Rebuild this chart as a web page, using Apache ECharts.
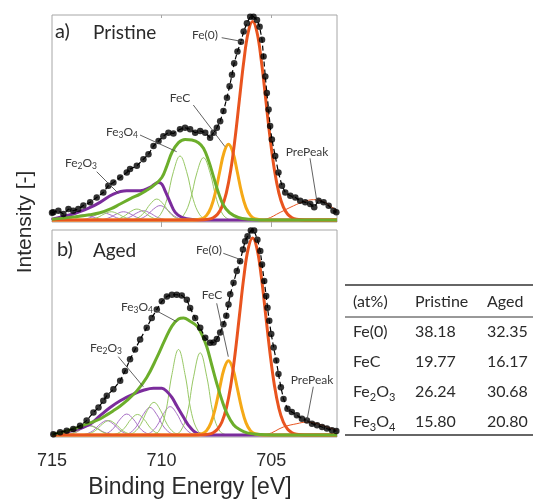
<!DOCTYPE html>
<html><head><meta charset="utf-8">
<script src="https://cdn.jsdelivr.net/npm/echarts@6/dist/echarts.min.js"></script>
<style>html,body{margin:0;padding:0;background:#fff}#c{width:534px;height:501px}</style>
</head><body><div id="c"></div>
<script>
// ---------- DATA (binding energy eV, intensity a.u.) ----------
const xTickValues = [715, 710, 705];

const dataA = [[715.0,3.5],[714.94,3.7],[714.71,4.5],[714.48,2.9],[714.25,5.3],[714.03,4.5],[713.80,5.3],[713.57,7.0],[713.26,8.6],[712.96,11.0],[712.66,13.4],[712.43,16.7],[712.20,18.3],[711.89,20.7],[711.59,23.1],[711.44,24.8],[711.13,26.4],[710.83,29.6],[710.60,32.0],[710.37,36.1],[710.14,38.5],[709.92,40.9],[709.69,42.6],[709.46,42.2],[709.16,44.2],[708.93,45.0],[708.70,44.2],[708.47,42.6],[708.24,43.4],[708.01,42.6],[707.79,40.1],[707.63,42.6],[707.48,45.0],[707.33,48.2],[707.18,53.1],[707.02,59.6],[706.90,65.2],[706.79,70.9],[706.69,76.5],[706.54,82.2],[706.38,87.0],[706.26,91.9],[706.11,96.0],[705.96,99.2],[705.81,99.2],[705.65,97.6],[705.53,94.3],[705.42,87.9],[705.35,79.8],[705.27,70.0],[705.20,62.0],[705.12,53.9],[705.05,45.8],[704.97,39.3],[704.82,31.2],[704.67,23.1],[704.51,16.7],[704.36,13.4],[704.13,11.8],[703.90,11.0],[703.68,9.4],[703.45,8.6],[703.22,7.8],[703.04,6.2],[702.84,9.4],[702.61,8.6],[702.38,6.9],[702.16,4.5],[702.03,3.7]];

const fe0A = [[715,0],[708.25,0],[707.85,0.4],[707.65,1.1],[707.45,2.8],[707.25,6.4],[707.05,13.1],[706.85,24.1],[706.65,39.8],[706.45,58.8],[706.25,77.5],[706.05,91.6],[705.85,96.8],[705.65,91.6],[705.45,77.5],[705.25,58.8],[705.05,39.8],[704.85,24.1],[704.65,13.1],[704.45,6.4],[704.25,2.8],[704.05,1.1],[703.85,0.4],[703.45,0],[702,0]];
const fecA = [[715,0],[708.55,0],[708.15,0.6],[707.95,2.2],[707.75,6.0],[707.55,13.3],[707.35,23.5],[707.15,33.0],[706.95,36.9],[706.75,33.0],[706.55,23.5],[706.35,13.3],[706.15,6.0],[705.95,2.2],[705.75,0.6],[705.35,0],[702,0]];
const fe3o4A = [[715,0.3],[714,1.5],[713.3,2.5],[712.81,3.5],[712.3,5.5],[711.89,7.8],[711.4,10.5],[710.98,12.6],[710.68,14.5],[710.37,16.7],[709.99,20.7],[709.76,26.4],[709.53,32.9],[709.23,37.7],[708.93,39.3],[708.62,39.0],[708.32,37.7],[708.09,35.0],[707.86,29.0],[707.63,21.0],[707.4,13.0],[707.17,7.0],[706.9,3.5],[706.5,1.2],[706.0,0.3],[705.5,0],[702,0]];
const fe2o3A = [[715,0],[714.94,0.5],[714.03,2.9],[713.26,6.1],[712.81,8.6],[712.20,12.6],[711.59,14.2],[710.98,14.2],[710.53,15.9],[710.15,18.3],[709.99,17.5],[709.84,14.2],[709.61,8.6],[709.38,3.7],[709.08,1.3],[708.6,0.2],[708,0],[702,0]];
const preA = [[705.6,0],[705.2,0.5],[704.59,3.7],[703.98,6.9],[703.52,8.9],[703.07,9.9],[702.61,8.9],[702.23,6.2],[702.0,4.5]];
const thinGreenA = [
  [[710.36,0],[710.06,2.5],[709.76,10.1],[709.46,23.6],[709.16,31.2],[708.86,23.6],[708.56,10.1],[708.26,2.5],[707.96,0]],
  [[709.29,0],[708.99,2.4],[708.69,9.9],[708.39,23.0],[708.09,30.4],[707.79,23.0],[707.49,9.9],[707.19,2.4],[706.89,0]],
  [[711.42,0],[711.12,0.8],[710.82,3.3],[710.52,7.7],[710.22,10.2],[709.92,7.7],[709.62,3.3],[709.32,0.8],[709.02,0]],
  [[712.33,0],[712.03,0.4],[711.73,1.7],[711.43,4.0],[711.13,5.3],[710.83,4.0],[710.53,1.7],[710.23,0.4],[709.93,0]],
  [[713.5,0],[713.2,0.3],[712.9,1.3],[712.6,3.0],[712.3,4.0],[712.0,3.0],[711.7,1.3],[711.4,0.3],[711.1,0]]
];
const thinPurpleA = [
  [[711.27,0],[710.97,0.6],[710.67,2.3],[710.37,5.3],[710.07,7.0],[709.77,5.3],[709.47,2.3],[709.17,0.6],[708.87,0]],
  [[712.03,0],[711.73,0.4],[711.43,1.5],[711.13,3.4],[710.83,4.5],[710.53,3.4],[710.23,1.5],[709.93,0.4],[709.63,0]],
  [[712.94,0],[712.64,0.3],[712.34,1.3],[712.04,3.0],[711.74,4.0],[711.44,3.0],[711.14,1.3],[710.84,0.3],[710.54,0]],
  [[713.86,0],[713.56,0.3],[713.26,1.1],[712.96,2.6],[712.66,3.5],[712.36,2.6],[712.06,1.1],[711.76,0.3],[711.46,0]],
  [[714.77,0],[714.47,0.2],[714.17,0.8],[713.87,1.9],[713.57,2.5],[713.27,1.9],[712.97,0.8],[712.67,0.2],[712.37,0]]
];

const dataB = [[714.94,0.3],[714.63,1.3],[714.33,2.1],[714.03,2.9],[713.72,4.5],[713.42,7.0],[713.11,11.0],[712.88,13.4],[712.66,16.7],[712.50,19.1],[712.20,22.3],[711.89,26.4],[711.67,31.2],[711.44,36.9],[711.21,41.7],[710.98,46.6],[710.68,52.3],[710.45,57.1],[710.22,61.2],[709.99,65.2],[709.76,67.6],[709.53,68.4],[709.31,68.4],[709.08,68.1],[708.85,66.0],[708.70,62.0],[708.47,57.1],[708.24,52.3],[708.01,47.4],[707.79,45.0],[707.63,45.1],[707.48,46.8],[707.33,50.0],[707.18,54.0],[707.05,58.1],[706.95,63.7],[706.87,68.6],[706.72,74.3],[706.57,80.0],[706.42,84.8],[706.29,90.5],[706.19,94.5],[706.08,96.9],[705.93,99.7],[705.78,99.7],[705.63,95.3],[705.50,89.7],[705.42,83.2],[705.32,75.1],[705.23,67.8],[705.17,62.1],[705.09,55.7],[705.00,49.2],[704.89,42.7],[704.77,36.3],[704.67,29.8],[704.56,23.3],[704.44,17.6],[704.26,12.8],[704.06,11.2],[703.83,9.6],[703.60,7.9],[703.37,7.1],[703.14,5.5],[702.91,4.7],[702.68,3.9],[702.46,3.1],[702.23,2.3],[702.03,1.9]];

const fe0B = [[715,0],[708.25,0],[707.85,0.4],[707.65,1.1],[707.45,2.8],[707.25,6.3],[707.05,13.0],[706.85,23.9],[706.65,39.5],[706.45,58.3],[706.25,77.0],[706.05,90.9],[705.85,96.1],[705.65,90.9],[705.45,77.0],[705.25,58.3],[705.05,39.5],[704.85,23.9],[704.65,13.0],[704.45,6.3],[704.25,2.8],[704.05,1.1],[703.85,0.4],[703.45,0],[702,0]];
const fecB = [[715,0],[708.55,0],[708.15,0.6],[707.95,2.1],[707.75,5.9],[707.55,13.1],[707.35,23.0],[707.15,32.3],[706.95,36.2],[706.75,32.3],[706.55,23.0],[706.35,13.1],[706.15,5.9],[705.95,2.1],[705.75,0.6],[705.35,0],[702,0]];
const fe3o4B = [[715,0.3],[714.5,1.5],[714.03,2.9],[713.5,5.0],[713.1,6.5],[712.81,7.8],[712.5,9.8],[712.2,11.8],[711.9,14.0],[711.59,16.7],[711.13,21.5],[710.68,28.0],[710.22,37.7],[709.84,46.6],[709.53,53.1],[709.23,56.6],[709.0,57.1],[708.7,55.5],[708.39,53.1],[708.16,49.0],[707.94,43.0],[707.71,34.0],[707.48,25.0],[707.25,17.0],[707.02,10.5],[706.72,5.0],[706.42,2.5],[706.1,1.0],[705.66,0.3],[704.9,0],[702,0]];
const fe2o3B = [[715,0],[714.94,0.5],[714.03,2.1],[713.26,5.3],[712.81,9.4],[712.35,13.4],[711.89,16.7],[711.29,19.9],[710.83,21.8],[710.37,22.8],[709.99,22.8],[709.76,21.2],[709.53,18.3],[709.31,14.2],[709.0,8.6],[708.7,3.7],[708.32,0.5],[707.8,0],[702,0]];
const preB = [[705.6,0],[705.2,0.3],[704.44,3.9],[703.83,5.5],[703.37,6.3],[702.91,5.5],[702.46,3.9],[702.0,2.3]];
const thinGreenB = [
  [[710.43,0],[710.13,1.8],[709.83,10.4],[709.53,29.5],[709.23,41.7],[708.93,29.5],[708.63,10.4],[708.33,1.8],[708.03,0]],
  [[709.44,0],[709.14,1.8],[708.84,10.0],[708.54,28.4],[708.24,40.1],[707.94,28.4],[707.64,10.0],[707.34,1.8],[707.04,0]],
  [[711.55,0],[711.25,1.3],[710.95,5.2],[710.65,12.0],[710.35,15.9],[710.05,12.0],[709.75,5.2],[709.45,1.3],[709.15,0]],
  [[712.3,0],[712.0,0.8],[711.7,3.3],[711.4,7.6],[711.1,10.0],[710.8,7.6],[710.5,3.3],[710.2,0.8],[709.9,0]],
  [[713.6,0],[713.3,0.6],[713.0,2.3],[712.7,5.3],[712.4,7.0],[712.1,5.3],[711.8,2.3],[711.5,0.6],[711.2,0]],
  [[714.5,0],[714.2,0.4],[713.9,1.5],[713.6,3.4],[713.3,4.5],[713.0,3.4],[712.7,1.5],[712.4,0.4],[712.1,0]]
];
const thinPurpleB = [
  [[710.81,0],[710.51,1.1],[710.21,4.5],[709.91,10.4],[709.61,13.8],[709.31,10.4],[709.01,4.5],[708.71,1.1],[708.41,0]],
  [[711.73,0],[711.43,1.1],[711.13,4.4],[710.83,10.1],[710.53,13.4],[710.23,10.1],[709.93,4.4],[709.63,1.1],[709.33,0]],
  [[712.79,0],[712.49,0.8],[712.19,3.3],[711.89,7.7],[711.59,10.2],[711.29,7.7],[710.99,3.3],[710.69,0.8],[710.39,0]],
  [[713.7,0],[713.4,0.6],[713.1,2.3],[712.8,5.3],[712.5,7.0],[712.2,5.3],[711.9,2.3],[711.6,0.6],[711.3,0]],
  [[714.46,0],[714.16,0.4],[713.86,1.5],[713.56,3.4],[713.26,4.5],[712.96,3.4],[712.66,1.5],[712.36,0.4],[712.06,0]]
];

const tableHeader = ['(at%)', 'Pristine', 'Aged'];
const tableNames = ['Fe(0)', 'FeC', '{n|Fe}{s|2}{n|O}{s|3}', '{n|Fe}{s|3}{n|O}{s|4}'];
const pristineVals = ['38.18', '19.77', '26.24', '15.80'];
const agedVals = ['32.35', '16.17', '30.68', '20.80'];

// ---------- STYLE ----------
const C = {
  fe0: '#E9541F', fec: '#F5A917', green: '#6CAE2B', purple: '#7B2C9C',
  thinGreen: '#98C865', thinPurple: '#A870C6', text: '#2a2a2a', ann: '#3a3a3a', lead: '#505050'
};

function line(p, data, color, width, z, extra) {
  return Object.assign({
    type: 'line', xAxisIndex: p, yAxisIndex: p, data: data, showSymbol: false,
    smooth: 0.4, lineStyle: { color: color, width: width }, z: z, silent: true, animation: false
  }, extra || {});
}

const series = [];
[[dataA, fe0A, fecA, fe3o4A, fe2o3A, preA, thinGreenA, thinPurpleA],
 [dataB, fe0B, fecB, fe3o4B, fe2o3B, preB, thinGreenB, thinPurpleB]].forEach((P, p) => {
  const [data, fe0, fec, fe3o4, fe2o3, pre, tg, tp] = P;
  tp.forEach(d => series.push(line(p, d, C.thinPurple, 1, 2)));
  tg.forEach(d => series.push(line(p, d, C.thinGreen, 1, 2)));
  series.push(line(p, pre, C.fe0, 1, 3));
  series.push(line(p, fe2o3, C.purple, 3, 4));
  series.push(line(p, fec, C.fec, 3, 5));
  series.push(line(p, fe0, C.fe0, 3, 6));
  series.push(line(p, fe3o4, C.green, 3, 7));
  series.push(line(p, data, '#000', 1, 8, { smooth: false, lineStyle: { color: '#000', width: 1.2, type: [5, 3] } }));
  series.push({ type: 'scatter', xAxisIndex: p, yAxisIndex: p, data: data, symbolSize: 6.5,
    itemStyle: { color: '#000' }, z: 9, silent: true, animation: false });
});

// ---------- ANNOTATIONS (pixel layout) ----------
const annFont = 'Lato';
const annRich = {
  n: { fontSize: 12, fontFamily: annFont, fill: C.ann, lineHeight: 16 },
  s: { fontSize: 8.5, fontFamily: annFont, fill: C.ann, lineHeight: 8.5, verticalAlign: 'bottom' }
};
const annotations = [
  { t: '{n|Fe(0)}', x: 205, y: 35, l: [221.7, 37.7, 243.3, 41.7] },
  { t: '{n|FeC}', x: 180, y: 98, l: [193.3, 105, 225, 146.7] },
  { t: '{n|Fe}{s|3}{n|O}{s|4}', x: 122, y: 132, l: [140, 135, 176.7, 151.7] },
  { t: '{n|Fe}{s|2}{n|O}{s|3}', x: 81, y: 163, l: [96.7, 171.7, 118.3, 193.3] },
  { t: '{n|PrePeak}', x: 307, y: 152, l: [310, 158.3, 316.7, 200] },
  { t: '{n|Fe(0)}', x: 209, y: 250, l: [223.3, 253.3, 241.7, 260] },
  { t: '{n|FeC}', x: 212, y: 295, l: [216.7, 303.3, 228.3, 356.7] },
  { t: '{n|Fe}{s|3}{n|O}{s|4}', x: 137, y: 307, l: [155, 310, 176.7, 321.7] },
  { t: '{n|Fe}{s|2}{n|O}{s|3}', x: 106, y: 348, l: [118.3, 356.7, 143.3, 386.7] },
  { t: '{n|PrePeak}', x: 312, y: 380, l: [313.3, 386.7, 306.7, 421.7] }
];
const graphic = [];
annotations.forEach(a => {
  graphic.push({ type: 'text', x: a.x, y: a.y, z: 20, silent: true,
    style: { text: a.t, rich: annRich, align: 'center', verticalAlign: 'middle', textAlign: 'center', textVerticalAlign: 'middle' } });
  graphic.push({ type: 'line', z: 20, silent: true, shape: { x1: a.l[0], y1: a.l[1], x2: a.l[2], y2: a.l[3] },
    style: { stroke: C.lead, lineWidth: 0.9 } });
});
// panel titles
[['a)', 55, 32], ['b)', 57, 250]].forEach(t => graphic.push({ type: 'text', x: t[1], y: t[2], z: 20,
  style: { text: t[0], font: '20px Lato', fill: C.text, align: 'left', verticalAlign: 'middle', textAlign: 'left', textVerticalAlign: 'middle' } }));
[['Pristine', 93, 33], ['Aged', 93, 251]].forEach(t => graphic.push({ type: 'text', x: t[1], y: t[2], z: 20,
  style: { text: t[0], font: '19px Lato', fill: C.text, align: 'left', verticalAlign: 'middle', textAlign: 'left', textVerticalAlign: 'middle' } }));
// axis titles
graphic.push({ type: 'text', x: 25, y: 222, rotation: Math.PI / 2, z: 20,
  style: { text: 'Intensity [-]', font: '21px "Liberation Sans"', fill: C.text, align: 'center', verticalAlign: 'middle', textAlign: 'center', textVerticalAlign: 'middle' } });
graphic.push({ type: 'text', x: 190, y: 488, z: 20,
  style: { text: 'Binding Energy [eV]', font: '23px "Liberation Sans"', fill: C.text, align: 'center', verticalAlign: 'middle', textAlign: 'center', textVerticalAlign: 'middle' } });

// table
const tRich = {
  n: { fontSize: 16, fontFamily: 'Lato', fill: C.text, lineHeight: 22 },
  s: { fontSize: 11, fontFamily: 'Lato', fill: C.text, lineHeight: 11, verticalAlign: 'bottom' }
};
const colX = [353, 415, 487];
const rowY = [332, 362, 392, 422];
[[285, 1.6], [317, 1], [435, 1.6]].forEach(l => graphic.push({ type: 'line', z: 20,
  shape: { x1: 345, y1: l[0], x2: 533, y2: l[0] }, style: { stroke: '#333', lineWidth: l[1] } }));
function cell(txt, x, y) {
  const t = txt.indexOf('{') === 0 ? txt : '{n|' + txt + '}';
  graphic.push({ type: 'text', x: x, y: y, z: 20,
    style: { text: t, rich: tRich, align: 'left', verticalAlign: 'middle', textAlign: 'left', textVerticalAlign: 'middle' } });
}
tableHeader.forEach((h, i) => cell(h, colX[i], 302));
tableNames.forEach((n, r) => {
  cell(n, colX[0], rowY[r]);
  cell(pristineVals[r], colX[1], rowY[r]);
  cell(agedVals[r], colX[2], rowY[r]);
});

// ---------- CHART ----------
const chart = echarts.init(document.getElementById('c'), null, { renderer: 'canvas' });
const baseX = { type: 'value', min: 702, max: 715, inverse: true, splitLine: { show: false }, axisLine: { show: false } };
chart.setOption({
  animation: false,
  backgroundColor: '#fff',
  grid: [
    { left: 52, top: 15, width: 285, height: 207, show: true, borderColor: '#a6a6a6', borderWidth: 1 },
    { left: 52, top: 230, width: 285, height: 207, show: true, borderColor: '#a6a6a6', borderWidth: 1 }
  ],
  xAxis: [
    Object.assign({}, baseX, { gridIndex: 0, position: 'bottom', axisLabel: { show: false },
      axisTick: { show: true, inside: false, length: 7, customValues: [705, 710], lineStyle: { color: '#a6a6a6' } } }),
    Object.assign({}, baseX, { gridIndex: 1, position: 'bottom',
      axisLabel: { show: true, customValues: xTickValues, fontSize: 18, color: C.text, fontFamily: 'Liberation Sans', margin: 15, showMinLabel: true, showMaxLabel: true },
      axisTick: { show: false } }),
    Object.assign({}, baseX, { gridIndex: 0, position: 'top', axisLabel: { show: false },
      axisTick: { show: true, inside: true, length: 3, customValues: [705, 710], lineStyle: { color: '#a6a6a6' } } })
  ],
  yAxis: [
    { gridIndex: 0, type: 'value', min: -1, max: 100, show: false },
    { gridIndex: 1, type: 'value', min: -1, max: 100, show: false }
  ],
  series: series,
  graphic: graphic
});
</script>
</body></html>
